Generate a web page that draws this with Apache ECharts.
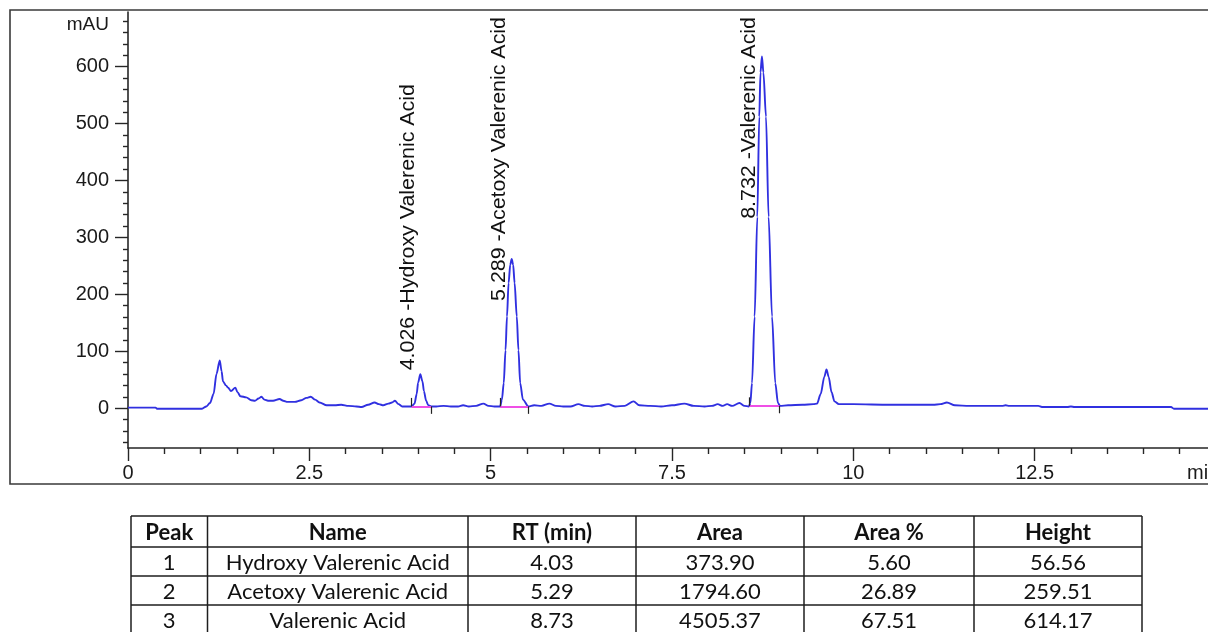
<!DOCTYPE html>
<html>
<head>
<meta charset="utf-8">
<script src="https://cdn.jsdelivr.net/npm/echarts@6.0.0/dist/echarts.min.js"></script>
<style>
html,body{margin:0;padding:0;background:#fff;}
#chart{width:1208px;height:632px;}
</style>
</head>
<body>
<div id="chart"></div>
<script>
// ---------- DATA ----------
const retentionTime = [
  0, 0.38, 0.40, 1.02, 1.08, 1.13, 1.18, 1.22, 1.265, 1.29, 1.31, 1.35, 1.38, 1.42, 1.48, 1.51, 1.55, 1.63, 1.70, 1.75,
  1.80, 1.84, 1.88, 1.93, 2.00, 2.09, 2.14, 2.20, 2.30, 2.39, 2.46, 2.52, 2.58, 2.64, 2.74, 2.85, 2.94, 3.04, 3.15, 3.22,
  3.31, 3.40, 3.46, 3.52, 3.59, 3.64, 3.68, 3.73, 3.78, 3.86, 3.91,
  3.95, 3.98, 4.00, 4.03, 4.06, 4.08, 4.11, 4.14, 4.18,
  4.25, 4.35, 4.45, 4.55, 4.62, 4.70, 4.80, 4.90, 4.97, 5.05, 5.13,
  5.155, 5.18, 5.205, 5.225, 5.247, 5.27, 5.29, 5.31, 5.33, 5.36, 5.383, 5.407, 5.445, 5.52,
  5.60, 5.70, 5.81, 5.90, 6.00, 6.10, 6.21, 6.30, 6.40, 6.50, 6.62, 6.72, 6.85, 6.97, 7.05, 7.20, 7.35, 7.50, 7.67, 7.80,
  7.95, 8.05, 8.13, 8.20, 8.26, 8.33, 8.43, 8.50, 8.56,
  8.58, 8.603, 8.639, 8.676, 8.703, 8.72, 8.74, 8.76, 8.796, 8.832, 8.879, 8.924, 8.961, 8.99,
  9.10, 9.30, 9.45, 9.50, 9.55, 9.60, 9.63, 9.66, 9.70, 9.74, 9.80, 10.0, 10.5, 11.1, 11.2, 11.29, 11.4, 11.6, 12.05, 12.1,
  12.15, 12.55, 12.6, 12.95, 13.0, 13.05, 14.38, 14.42, 15
];
const signal = [
  1, 1, -1, -1, 3, 9, 25, 60, 84, 65, 47, 40, 36, 30, 36, 28, 21, 19, 14, 13,
  17, 20, 15, 13, 13, 16, 13, 11, 11, 14, 18, 20, 15, 10, 5, 5, 6, 4, 3, 2,
  6, 10, 7, 5, 8, 10, 13, 7, 3, 3, 3,
  8, 25, 45, 59.5, 47, 30, 13, 5, 3,
  3, 4, 3, 3, 5, 3, 4, 8, 4, 3, 3,
  15, 44, 102, 161, 220, 252, 262, 252, 220, 161, 102, 44, 15, 3,
  5, 4, 8, 4, 3, 3, 7, 4, 3, 4, 7, 3, 4, 12, 5, 4, 3, 5, 8, 4,
  3, 4, 7, 4, 7, 4, 9, 4, 3,
  9, 44, 161, 336, 512, 590, 618, 590, 512, 336, 161, 44, 9, 4,
  5, 6, 7, 8, 25, 55, 68, 55, 28, 12, 7, 7, 6, 6, 7, 10, 5, 4, 4, 5,
  4, 4, 2, 2, 3, 2, 2, -1, -1
];

const peakNo      = [1, 2, 3];
const peakName    = ['Hydroxy Valerenic Acid', 'Acetoxy Valerenic Acid', 'Valerenic Acid'];
const peakRT      = [4.026, 5.289, 8.732];
const peakApex    = [59.5, 262, 618];
const peakStart   = [3.91, 5.13, 8.57];
const peakEnd     = [4.18, 5.52, 8.98];
const peakBase    = [3, 3, 4];

const tableHeader = ['Peak', 'Name', 'RT (min)', 'Area', 'Area %', 'Height'];
const tableRT     = [4.03, 5.29, 8.73];
const tableArea   = [373.90, 1794.60, 4505.37];
const tableAreaPct= [5.60, 26.89, 67.51];
const tableHeight = [56.56, 259.51, 614.17];

const yMajorTicks = [0, 100, 200, 300, 400, 500, 600];
const yMinorTicks = [-60, -40, -20, 20, 40, 60, 80, 120, 140, 160, 180, 220, 240, 260, 280, 320, 340, 360, 380,
                     420, 440, 460, 480, 520, 540, 560, 580, 620, 640, 660, 680];

// ---------- STYLE ----------
const FONT = "'Liberation Sans', Arial, sans-serif";
const TFONT = "Lato, 'Open Sans', sans-serif";
const AX = '#262626';
const LABEL_SCALE = 1.07;
const LABEL_FONT = "20px 'Liberation Sans', Arial, sans-serif";

const chart = echarts.init(document.getElementById('chart'), null, {renderer: 'canvas'});
const measureCtx = document.createElement('canvas').getContext('2d');

// integration marks built from arrays
const markData = [];
peakStart.forEach((s, i) => {
  const e = peakEnd[i], b = peakBase[i];
  markData.push([{coord: [s, b], lineStyle: {color: '#ef4fe6', width: 2, type: 'solid'}}, {coord: [e, b]}]);
  markData.push([{coord: [s, b], lineStyle: {color: '#222', width: 1.2, type: 'solid'}}, {coord: [s, b + 15]}]);
  markData.push([{coord: [e, b], lineStyle: {color: '#222', width: 1.2, type: 'solid'}}, {coord: [e, b - 13]}]);
});

// table graphic
const colX = [131, 207.5, 468, 636, 804, 974, 1142];
const rowY = [516, 547, 576, 605, 634];
const tableEls = [];
rowY.forEach(y => tableEls.push({type: 'line', silent: true, shape: {x1: colX[0], y1: y, x2: colX[6], y2: y},
  style: {stroke: '#1e1e1e', lineWidth: 1.5}}));
colX.forEach(x => tableEls.push({type: 'line', silent: true, shape: {x1: x, y1: rowY[0], x2: x, y2: rowY[4]},
  style: {stroke: '#1e1e1e', lineWidth: 1.5}}));
function cell(col, row, text, bold) {
  tableEls.push({type: 'text', silent: true,
    x: (colX[col] + colX[col + 1]) / 2, y: (rowY[row] + rowY[row + 1]) / 2 + 1,
    style: {text: text, font: (bold ? 'bold ' : '') + '22px ' + TFONT, fill: '#111', align: 'center', verticalAlign: 'middle'}});
}
tableHeader.forEach((h, c) => cell(c, 0, h, true));
peakNo.forEach((n, r) => {
  cell(0, r + 1, String(n));
  cell(1, r + 1, peakName[r]);
  cell(2, r + 1, tableRT[r].toFixed(2));
  cell(3, r + 1, tableArea[r].toFixed(2));
  cell(4, r + 1, tableAreaPct[r].toFixed(2));
  cell(5, r + 1, tableHeight[r].toFixed(2));
});

const option = {
  animation: false,
  backgroundColor: '#ffffff',
  grid: {left: 128, top: 12, right: -8, bottom: 184, containLabel: false, outerBoundsMode: 'none'},
  xAxis: {
    type: 'value', min: 0, max: 15, interval: 2.5,
    axisLine: {show: true, onZero: false, lineStyle: {color: AX, width: 1.6}},
    axisTick: {show: true, length: 13, lineStyle: {color: AX, width: 1.4}},
    minorTick: {show: true, splitNumber: 5, length: 6, lineStyle: {color: AX, width: 1.4}},
    splitLine: {show: false}, minorSplitLine: {show: false},
    axisLabel: {margin: 15, fontSize: 20, fontFamily: FONT, color: '#1a1a1a',
      formatter: v => (v >= 15 ? '' : String(v))},
    name: 'min', nameLocation: 'end', nameGap: -29,
    nameTextStyle: {fontSize: 20, fontFamily: FONT, color: '#1a1a1a', align: 'left', verticalAlign: 'top', padding: [15, 0, 0, 0]}
  },
  yAxis: [{
    type: 'value', min: -70, max: 696, position: 'left',
    axisLine: {show: true, onZero: false, lineStyle: {color: AX, width: 1.6}},
    axisTick: {show: true, length: 13, customValues: yMajorTicks, lineStyle: {color: AX, width: 1.4}},
    axisLabel: {customValues: yMajorTicks, margin: 19, fontSize: 20, fontFamily: FONT, color: '#1a1a1a'},
    splitLine: {show: false},
    name: 'mAU', nameLocation: 'end', nameGap: -13,
    nameTextStyle: {fontSize: 19, fontFamily: FONT, color: '#1a1a1a', align: 'right', verticalAlign: 'middle', padding: [0, 19, 0, 0]}
  }, {
    type: 'value', min: -70, max: 696, position: 'left',
    axisLine: {show: false},
    axisTick: {show: true, length: 5, customValues: yMinorTicks, lineStyle: {color: AX, width: 1.4}},
    axisLabel: {show: false},
    splitLine: {show: false}
  }],
  graphic: {elements: [
    {type: 'rect', silent: true, z: -10, shape: {x: 10, y: 10, width: 1230, height: 474},
      style: {fill: 'none', stroke: '#3a3a3a', lineWidth: 1.6}},
    ...tableEls
  ]},
  series: [{
    type: 'line', name: 'signal', xAxisIndex: 0, yAxisIndex: 0,
    data: retentionTime.map((t, i) => [t, signal[i]]),
    showSymbol: false, symbol: 'none',
    smooth: 0.3, smoothMonotone: 'x',
    lineStyle: {color: '#3030e0', width: 1.9},
    z: 3
  }, {
    type: 'line', name: 'integration', xAxisIndex: 0, yAxisIndex: 0, data: [],
    markLine: {silent: true, symbol: ['none', 'none'], label: {show: false}, animation: false, data: markData},
    z: 4
  }, {
    type: 'custom', name: 'labels', xAxisIndex: 0, yAxisIndex: 0, clip: false, silent: true,
    data: peakRT.map((rt, i) => [rt, peakApex[i], i]),
    encode: {x: 0, y: 1},
    renderItem: function (params, api) {
      const i = api.value(2);
      const p = api.coord([api.value(0), api.value(1)]);
      const txt = peakRT[i].toFixed(3) + ' -' + peakName[i];
      measureCtx.font = LABEL_FONT;
      const len = measureCtx.measureText(txt).width * LABEL_SCALE;
      const topLimit = params.coordSys.y + 5;
      let startY = p[1] - 4;
      if (startY - len < topLimit) startY = topLimit + len;
      return {
        type: 'text', x: p[0] - 12, y: startY, rotation: Math.PI / 2, scaleX: LABEL_SCALE,
        style: {text: txt, font: LABEL_FONT, fill: '#111', align: 'left', verticalAlign: 'middle'}
      };
    },
    z: 5
  }]
};
chart.setOption(option);
</script>
</body>
</html>
